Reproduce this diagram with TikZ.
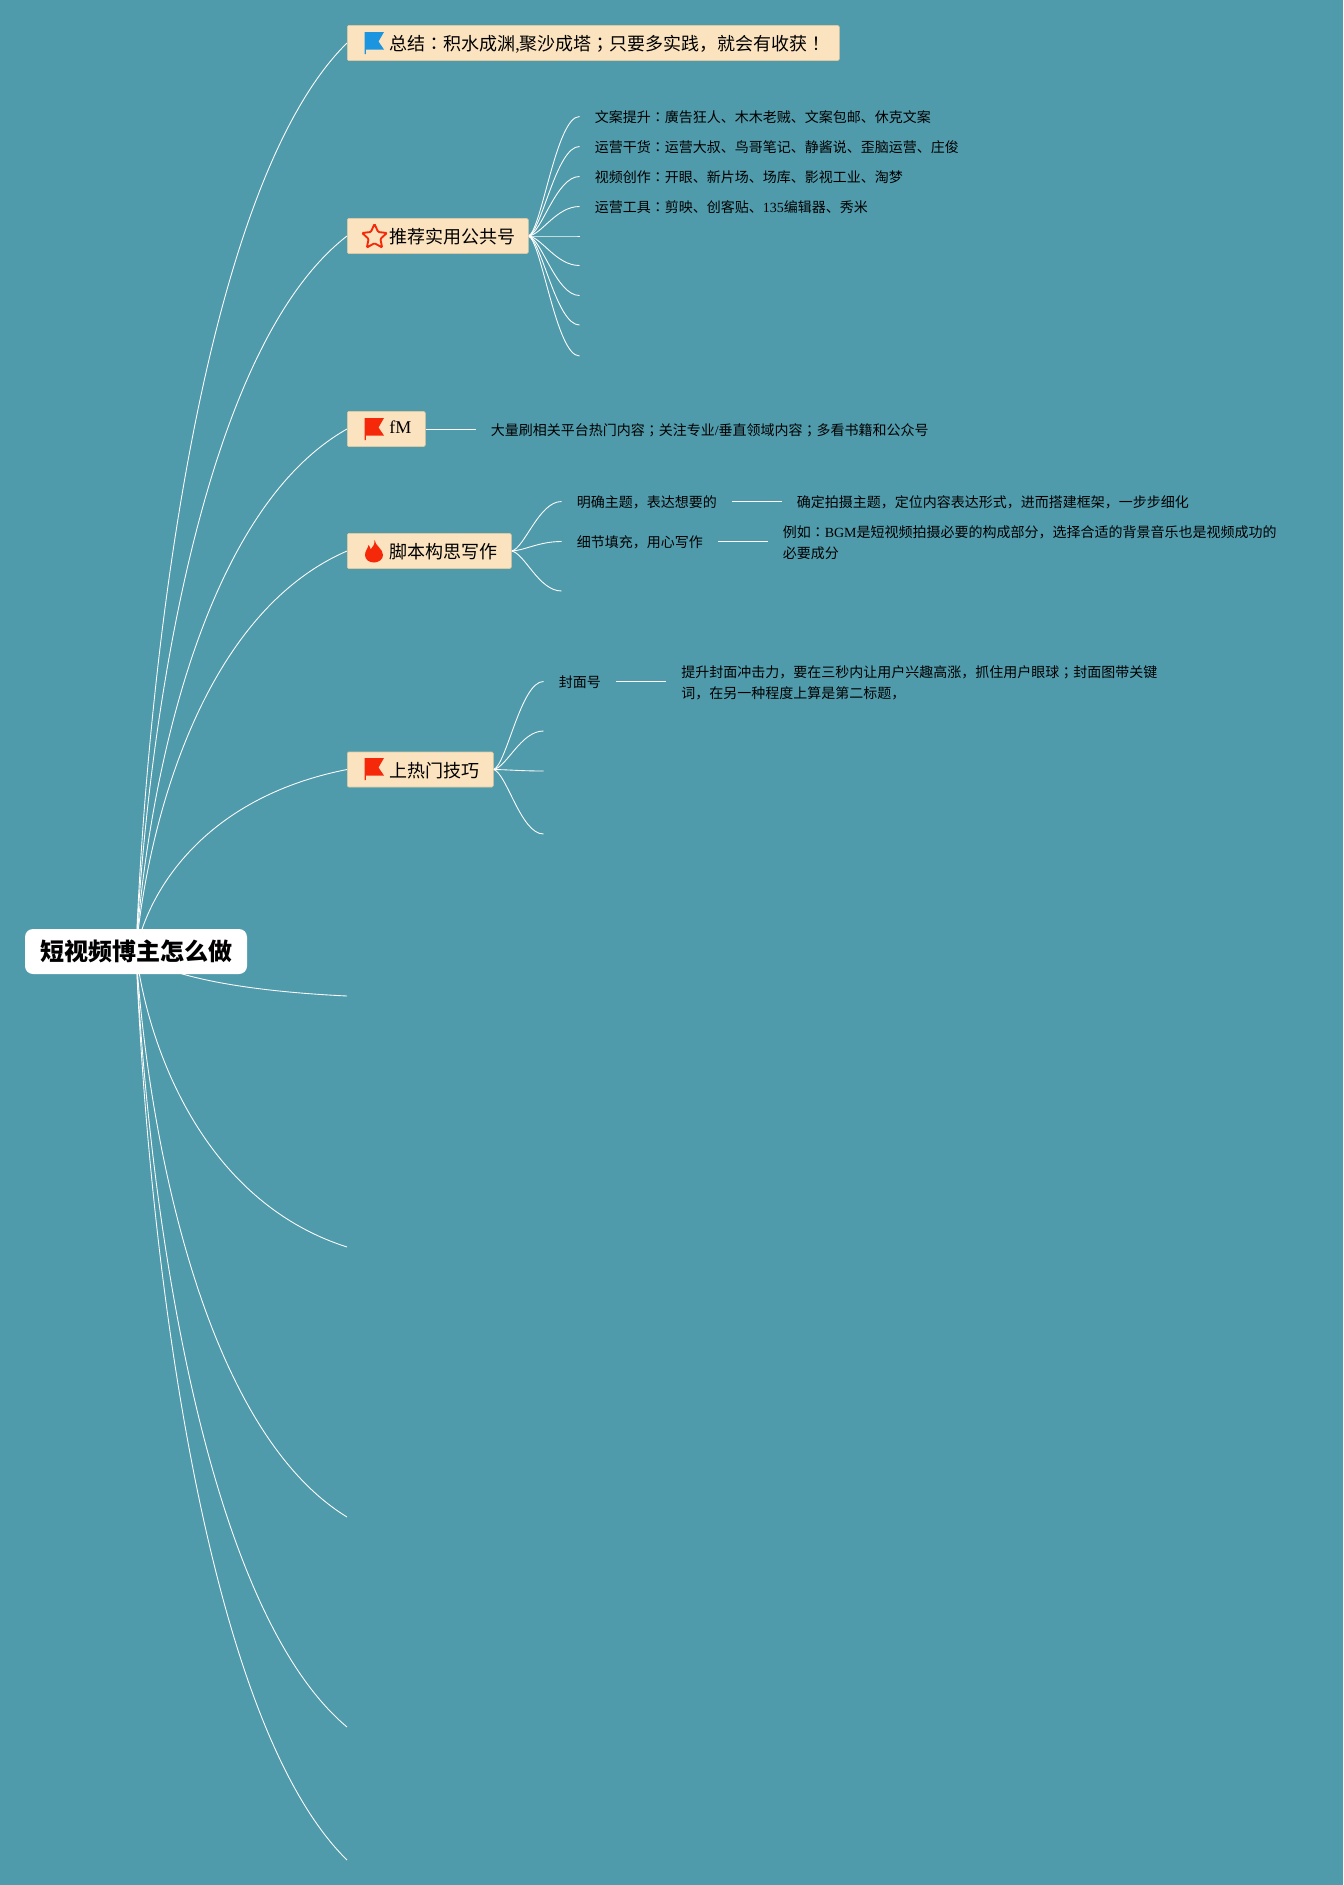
\documentclass[tikz,border=0pt]{standalone}
\usepackage{fontspec}
\usetikzlibrary{calc,backgrounds,shapes.geometric}
\setmainfont{Liberation Serif}
\newfontfamily\cjk{Noto Sans CJK SC}
\newfontfamily\cjktc{Noto Sans CJK TC}
\newcommand{\lat}[1]{{\rmfamily #1}}
\newcommand{\colonc}{{\cjktc ：}}
\newcommand{\semic}{{\cjktc ；}}
\newcommand{\bangc}{{\cjktc ！}}
\newcommand{\dn}[1]{\raisebox{0pt}[\dimexpr\height+1.5pt\relax]{#1}}
\definecolor{bgc}{HTML}{509BAB}
\definecolor{boxc}{HTML}{FBE3BF}
\definecolor{boxb}{HTML}{DCC9A2}
\definecolor{redc}{HTML}{F5290A}
\definecolor{bluec}{HTML}{1B95E0}
\tikzset{
  rootn/.style={fill=white,rounded corners=6pt,inner sep=0pt,minimum width=166.5pt,minimum height=33.75pt,
    font=\fontsize{18}{22}\selectfont\cjk\bfseries,text=black},
  l2box/.style={fill=boxc,draw=boxb,line width=.4pt,rounded corners=1pt,inner xsep=0pt,inner ysep=0pt,
    minimum height=26.25pt,anchor=west,align=left,text width=#1,
    font=\fontsize{13.5}{18}\selectfont\cjk,text=black},
  l3text/.style={anchor=west,inner sep=0pt,align=left,
    font=\fontsize{10.5}{15.75}\selectfont\cjk,text=black},
  link/.style={draw=white,line width=.65pt},
  rootcurve/.style={link,to path={let \p1=(\tikztostart),\p2=(\tikztotarget) in
    .. controls ({\x1+0.05*(\x2-\x1)},{\y1+0.3*(\y2-\y1)}) and ({\x1+0.3*(\x2-\x1)},{\y1+0.84*(\y2-\y1)}) .. (\tikztotarget)}},
  kidcurve/.style={link,shorten >=11.25pt,to path={let \p1=(\tikztostart),\p2=(\tikztotarget) in
    .. controls ({\x1+0.2*(\x2-\x1)},{\y1+0.05*(\y2-\y1)}) and ({\x1+0.42*(\x2-\x1)},{\y2}) .. (\tikztotarget)}},
  stub/.style={link,shorten >=11.25pt,shorten <=11.25pt},
  flagicon/.style={fill=#1},
}
\newcommand{\flagat}[3]{% x, y (top), colour
  \fill[flagicon=#3,shift={(#1,#2)}] (0,0) -- (19.5,0) -- (14,9.5) -- (19.5,17.5) -- (1.4,17.5) -- (1.4,22) -- (0,22) -- cycle;}
\begin{document}
\begin{tikzpicture}[x=.75pt,y=-.75pt]
\useasboundingbox (0,0) rectangle (1343,1885);
\begin{scope}[on background layer]
  \fill[bgc] (0,0) rectangle (1343,1885);
\end{scope}

% root
\node[rootn] (root) at (136,951.5) {短视频博主怎么做};

% main branches
\node[l2box=369pt] (a) at (347,43) {\hspace*{31.5pt}\dn{总结\colonc 积水成渊{\lat{,}}聚沙成塔\semic 只要多实践，就会有收获\bangc}};
\node[l2box=135.75pt] (b) at (347,236) {\hspace*{31.5pt}\dn{推荐实用公共号}};
\node[l2box=58.5pt] (c) at (347,429) {\hspace*{31.5pt}\raisebox{3.5pt}{\lat{fM}}};
\node[l2box=123pt] (d) at (347,551) {\hspace*{31.5pt}\dn{脚本构思写作}};
\node[l2box=109.5pt] (e) at (347,769.5) {\hspace*{31.5pt}\dn{上热门技巧}};

% empty branch ends
\coordinate (f) at (347,996);
\coordinate (g) at (347,1247);
\coordinate (h) at (347,1517);
\coordinate (i) at (347,1727);
\coordinate (j) at (347,1860);

% icons
\flagat{364.5}{32}{bluec}
\node[star,star points=5,star point ratio=2.1,draw=redc,line width=1.4pt,rounded corners=.8pt,
  inner sep=0pt,minimum size=19.5pt] (staricon) at (374.5,237) {};
\flagat{364.5}{418}{redc}
\fill[redc,shift={(365,540)}] (9.5,0) .. controls (10.5,6) and (18,9) .. (18,15)
  .. controls (18,19.5) and (13.5,22.5) .. (9,22.5) .. controls (4,22.5) and (0,19.5) .. (0,15)
  .. controls (0,11) and (3,8) .. (3.5,5) .. controls (5,6.5) and (5.5,8) .. (5.5,9.5)
  .. controls (8,7) and (10,4) .. (9.5,0) -- cycle;
\flagat{364.5}{758}{redc}

% level 3 text
\node[l3text] (b1) at (594.5,116.5) {\dn{文案提升\colonc 廣告狂人、木木老贼、文案包邮、休克文案}};
\node[l3text] (b2) at (594.5,146.5) {\dn{运营干货\colonc 运营大叔、鸟哥笔记、静酱说、歪脑运营、庄俊}};
\node[l3text] (b3) at (594.5,176.5) {\dn{视频创作\colonc 开眼、新片场、场库、影视工业、淘梦}};
\node[l3text] (b4) at (594.5,206.5) {\dn{运营工具\colonc 剪映、创客贴、\lat{135}编辑器、秀米}};
\coordinate (b5) at (594.5,236);
\coordinate (b6) at (594.5,265.5);
\coordinate (b7) at (594.5,295.5);
\coordinate (b8) at (594.5,325);
\coordinate (b9) at (594.5,356);

\node[l3text] (c1) at (490.5,429) {\dn{大量刷相关平台热门内容\semic 关注专业\lat{/}垂直领域内容\semic 多看书籍和公众号}};

\node[l3text] (d1) at (576.5,501.5) {\dn{明确主题，表达想要的}};
\node[l3text] (d2) at (576.5,541.5) {\dn{细节填充，用心写作}};
\coordinate (d3) at (576.5,591);
\node[l3text] (d1a) at (796.5,501.5) {\dn{确定拍摄主题，定位内容表达形式，进而搭建框架，一步步细化}};
\node[l3text] (d2a) at (782.5,542.5) {例如\colonc \lat{BGM}是短视频拍摄必要的构成部分，选择合适的背景音乐也是视频成功的\\必要成分};

\node[l3text] (e1) at (558.5,681.5) {\dn{封面号}};
\coordinate (e2) at (558.5,731);
\coordinate (e3) at (558.5,771);
\coordinate (e4) at (558.5,834);
\node[l3text] (e1a) at (681,682.5) {提升封面冲击力，要在三秒内让用户兴趣高涨，抓住用户眼球\semic 封面图带关键\\词，在另一种程度上算是第二标题，};

% connectors
\begin{scope}[on background layer]
  \foreach \t in {a.west,b.west,c.west,d.west,e.west,f,g,h,i,j}
    \draw[rootcurve] (root.center) to (\t);
  \foreach \t in {b1.west,b2.west,b3.west,b4.west,b5,b6,b7,b8,b9}
    \draw[kidcurve] (b.east) to (\t);
  \foreach \t in {d1.west,d2.west,d3}
    \draw[kidcurve] (d.east) to (\t);
  \foreach \t in {e1.west,e2,e3,e4}
    \draw[kidcurve] (e.east) to (\t);
  \draw[link,shorten >=11.25pt] (c.east) -- (c1.west);
  \draw[stub] (d1.east) -- (d1a.west);
  \draw[stub] (d2.east) -- (d2.east -| d2a.west);
  \draw[stub] (e1.east) -- (e1.east -| e1a.west);
\end{scope}
\end{tikzpicture}
\end{document}
